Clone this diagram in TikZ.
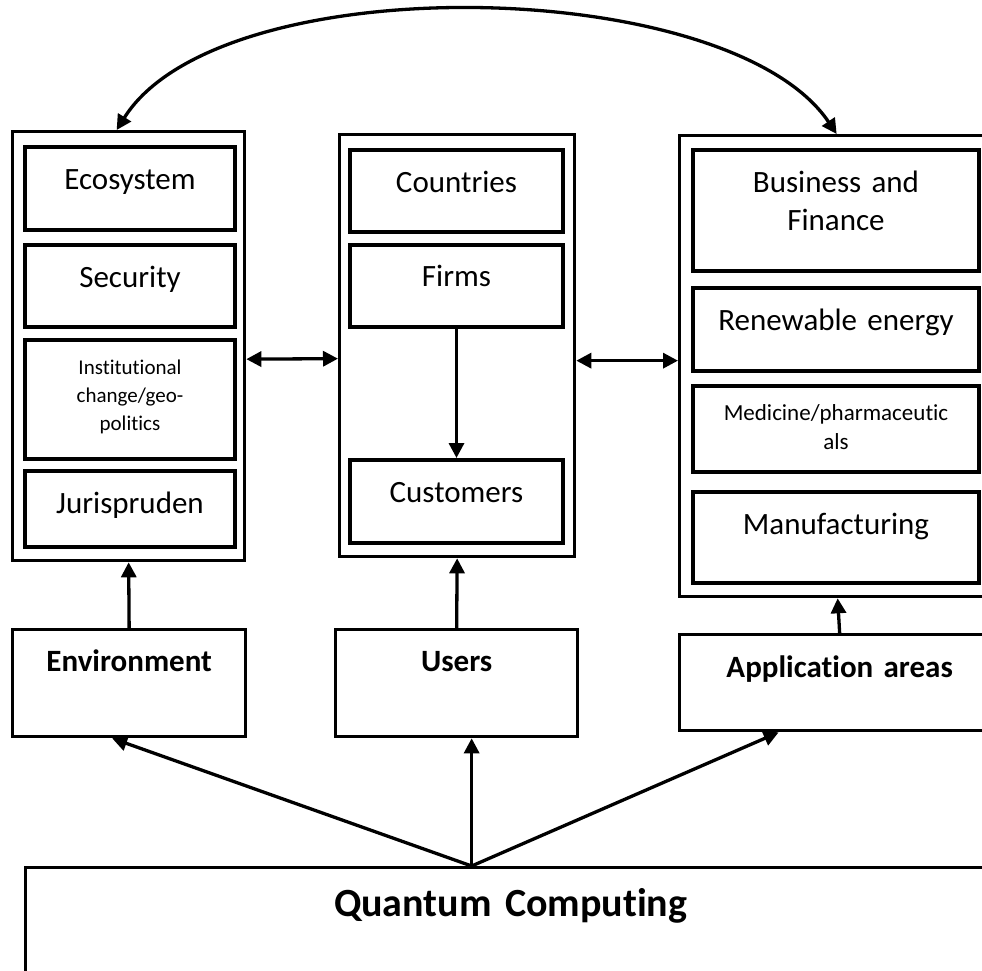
\documentclass[tikz,border=0pt]{standalone}
\usepackage{fontspec}
\setmainfont{Carlito}[Ligatures=NoCommon]
\usetikzlibrary{arrows.meta}

\begin{document}
\begin{tikzpicture}[x=1pt,y=-1pt]
\tikzset{cell/.style={draw,line width=4pt,inner sep=0pt,anchor=north west,align=center,text height=42pt,font=\fontsize{31}{38}\selectfont},
  small/.style={font=\fontsize{21}{28}\selectfont,text height=34pt},
  frame/.style={draw,line width=3.3pt,inner sep=0pt,anchor=north west},
  arr/.style={line width=3.3pt,-{Triangle[length=15pt,width=15pt]}},
  dbl/.style={line width=3.3pt,{Triangle[length=15pt,width=15pt]}-{Triangle[length=15pt,width=15pt]}}}
\clip (0,0) rectangle (982,971);
% The outer frames
\node[frame,minimum width=232pt,minimum height=429pt] (lout) at (11,130) {};
\node[frame,minimum width=235pt,minimum height=422pt] (mout) at (338,133) {};
\node[frame,minimum width=322pt,minimum height=461pt] (rout) at (678,134) {};
%%%
% Environment column
\foreach \name/\top/\dep/\txt in {eco/145/41/Ecosystem,sec/243/40/Security,juris/469/34/Jurispruden}
  \node[cell,text width=210pt,text depth=\dep pt] (\name) at (23,\top) {\txt};
\node[cell,small,text width=210pt,text depth=85pt] (inst) at (23,338)
  {Institutional\\change/geo-\\politics};
% Users column
\foreach \name/\top/\hgt/\dep/\txt in {ctry/148/42/40/Countries,firms/243/41/41/Firms,cust/458/42/41/Customers}
  \node[cell,text width=213pt,text height=\hgt pt,text depth=\dep pt] (\name) at (348,\top) {\txt};
% Application column
\foreach \name/\top/\dep/\txt in {bus/148/79/{Business and\\Finance},renew/286/41/Renewable energy,manuf/490/49/Manufacturing}
  \node[cell,text width=286pt,text depth=\dep pt] (\name) at (691,\top) {\txt};
\node[cell,font=\fontsize{23}{29}\selectfont,text height=34pt,text width=286pt,text depth=52pt] (med) at (691,384)
  {Medicine/pharmaceutic\\als};
%%%
% Bottom boxes
\node[cell,line width=3.3pt,text width=233pt,text depth=65pt] (env) at (11,628) {\bfseries Environment};
\node[cell,line width=3.3pt,text width=242pt,text depth=65pt] (users) at (334,628) {\bfseries Users};
\node[cell,line width=3.3pt,text width=320pt,text height=43pt,text depth=53pt] (app) at (678,633) {\bfseries Application areas};
\node[cell,line width=3.3pt,text width=970pt,text height=49pt,text depth=160pt,font=\fontsize{40}{48}\selectfont] (qc) at (24,866) {\bfseries Quantum Computing};
%%%
% Connectors
\draw[dbl] ([yshift=-13pt]lout.east) -- ([yshift=-13pt]mout.west);
\draw[dbl] ([yshift=-15pt]mout.east) -- ([yshift=-15pt]mout.east -| rout.west);
\draw[arr] (firms) -- (cust);
\draw[arr] (env.north) -- (lout.south);
\draw[arr] (users.north) -- (mout.south);
\draw[arr] (app.north) -- ([xshift=-3pt]rout.south);
\coordinate (src) at ([xshift=-39pt]qc.north);
\draw[arr] (src) -- ([xshift=-17pt]env.south);
\draw[arr] (src) -- (src |- users.south);
\draw[arr] (src) -- ([xshift=-61pt]app.south);
\draw[dbl] ([xshift=-12pt]lout.north) .. controls (220,-35) and (730,-25) .. ([xshift=-4pt]rout.north);
\end{tikzpicture}
\end{document}
